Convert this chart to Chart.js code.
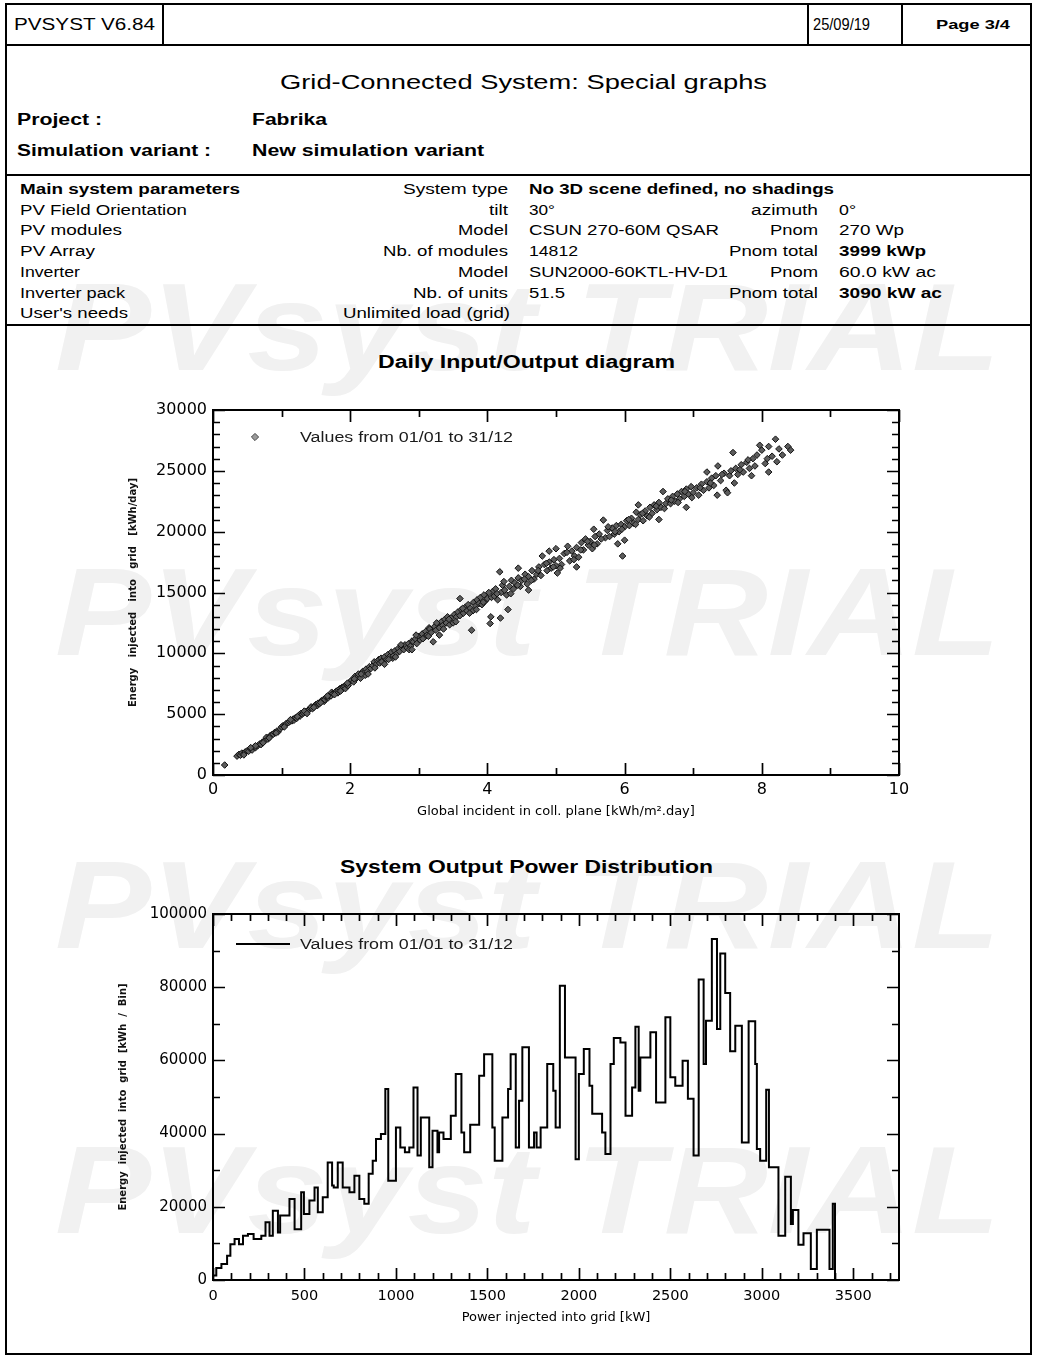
<!DOCTYPE html>
<html>
<head>
<meta charset="utf-8">
<title>PVsyst - Special graphs</title>
<script src="https://cdn.jsdelivr.net/npm/chart.js@4.4.1/dist/chart.umd.min.js"></script>
<style>
html,body{margin:0;padding:0;background:#fff}
body{position:relative;width:1038px;height:1358px;overflow:hidden;font-family:"Liberation Sans",Arial,sans-serif;color:#000}
.t{position:absolute;white-space:pre;line-height:1.2;transform-origin:0 50%}
.b{font-weight:bold}
.wm{position:absolute;white-space:pre;line-height:1.2;font-weight:bold;font-style:italic;color:#f1f1f1;transform-origin:0 50%}
.hl{position:absolute;height:2px;background:#000}
.vl{position:absolute;width:2px;background:#000}
canvas{position:absolute}
</style>
</head>
<body>
<!-- watermarks -->
<div class="wm" data-x="55" data-cy="327" data-fs="125" data-w="945">PVsyst TRIAL</div>
<div class="wm" data-x="55" data-cy="612" data-fs="125" data-w="945">PVsyst TRIAL</div>
<div class="wm" data-x="55" data-cy="905" data-fs="125" data-w="945">PVsyst TRIAL</div>
<div class="wm" data-x="55" data-cy="1190" data-fs="125" data-w="945">PVsyst TRIAL</div>

<!-- page frame -->
<div style="position:absolute;left:5px;top:3px;width:1027px;height:1352px;border:2px solid #000;box-sizing:border-box"></div>
<div class="hl" style="left:5px;top:44px;width:1027px"></div>
<div class="vl" style="left:162px;top:3px;height:42px"></div>
<div class="vl" style="left:807px;top:3px;height:42px"></div>
<div class="vl" style="left:901px;top:3px;height:42px"></div>
<div class="hl" style="left:5px;top:174px;width:1027px"></div>
<div class="hl" style="left:5px;top:324px;width:1027px"></div>

<!-- header -->
<div class="t" data-x="14" data-cy="25" data-fs="16" data-w="141">PVSYST V6.84</div>
<div class="t" data-x="813" data-cy="25" data-fs="16" data-w="57">25/09/19</div>
<div class="t b" data-x="936" data-cy="25" data-fs="13" data-w="74">Page 3/4</div>

<div class="t" data-x="280" data-cy="82" data-fs="20" data-w="487">Grid-Connected System: Special graphs</div>
<div class="t b" data-x="17" data-cy="120" data-fs="16" data-w="85">Project :</div>
<div class="t b" data-x="252" data-cy="120" data-fs="16" data-w="75">Fabrika</div>
<div class="t b" data-x="17" data-cy="151" data-fs="16" data-w="194">Simulation variant :</div>
<div class="t b" data-x="252" data-cy="151" data-fs="16" data-w="232">New simulation variant</div>

<!-- main system parameters -->
<div class="t b" data-x="20" data-cy="189" data-fs="14" data-w="220">Main system parameters</div>
<div class="t" data-x="403" data-cy="189" data-fs="14" data-w="105">System type</div>
<div class="t b" data-x="529" data-cy="189" data-fs="14" data-w="305">No 3D scene defined, no shadings</div>

<div class="t" data-x="20" data-cy="210" data-fs="14" data-w="167">PV Field Orientation</div>
<div class="t" data-x="489" data-cy="210" data-fs="14" data-w="19">tilt</div>
<div class="t" data-x="529" data-cy="210" data-fs="14" data-w="26">30°</div>
<div class="t" data-x="751" data-cy="210" data-fs="14" data-w="67">azimuth</div>
<div class="t" data-x="839" data-cy="210" data-fs="14" data-w="17">0°</div>

<div class="t" data-x="20" data-cy="230" data-fs="14" data-w="102">PV modules</div>
<div class="t" data-x="458" data-cy="230" data-fs="14" data-w="50">Model</div>
<div class="t" data-x="529" data-cy="230" data-fs="14" data-w="190">CSUN 270-60M QSAR</div>
<div class="t" data-x="770" data-cy="230" data-fs="14" data-w="48">Pnom</div>
<div class="t" data-x="839" data-cy="230" data-fs="14" data-w="65">270 Wp</div>

<div class="t" data-x="20" data-cy="251" data-fs="14" data-w="75">PV Array</div>
<div class="t" data-x="383" data-cy="251" data-fs="14" data-w="125">Nb. of modules</div>
<div class="t" data-x="529" data-cy="251" data-fs="14" data-w="49">14812</div>
<div class="t" data-x="729" data-cy="251" data-fs="14" data-w="89">Pnom total</div>
<div class="t b" data-x="839" data-cy="251" data-fs="14" data-w="87">3999 kWp</div>

<div class="t" data-x="20" data-cy="272" data-fs="14" data-w="60">Inverter</div>
<div class="t" data-x="458" data-cy="272" data-fs="14" data-w="50">Model</div>
<div class="t" data-x="529" data-cy="272" data-fs="14" data-w="199">SUN2000-60KTL-HV-D1</div>
<div class="t" data-x="770" data-cy="272" data-fs="14" data-w="48">Pnom</div>
<div class="t" data-x="839" data-cy="272" data-fs="14" data-w="97">60.0 kW ac</div>

<div class="t" data-x="20" data-cy="293" data-fs="14" data-w="105">Inverter pack</div>
<div class="t" data-x="413" data-cy="293" data-fs="14" data-w="95">Nb. of units</div>
<div class="t" data-x="529" data-cy="293" data-fs="14" data-w="36">51.5</div>
<div class="t" data-x="729" data-cy="293" data-fs="14" data-w="89">Pnom total</div>
<div class="t b" data-x="839" data-cy="293" data-fs="14" data-w="103">3090 kW ac</div>

<div class="t" data-x="20" data-cy="313" data-fs="14" data-w="108">User's needs</div>
<div class="t" data-x="343" data-cy="313" data-fs="14" data-w="167">Unlimited load (grid)</div>

<!-- chart titles -->
<div class="t b" data-x="378" data-cy="363" data-fs="18" data-w="297">Daily Input/Output diagram</div>
<div class="t b" data-x="340" data-cy="868" data-fs="18" data-w="373">System Output Power Distribution</div>

<canvas id="c1" width="1000" height="443" style="left:20px;top:380px;width:1000px;height:443px"></canvas>
<canvas id="c2" width="1000" height="444" style="left:20px;top:884px;width:1000px;height:444px"></canvas>

<script>
// ---------- DATA ----------
const legendLabel = 'Values from 01/01 to 31/12';

// Daily Input/Output diagram: global incident irradiation [kWh/m².day]
const dailyIrradiation = [
  0.17,0.35,0.38,0.40,0.42,0.45,0.47,0.50,0.52,0.55,
  0.57,0.60,0.62,0.65,0.68,0.70,0.72,0.75,0.78,0.80,
  0.83,0.85,0.88,0.90,0.93,0.95,0.98,1.00,1.02,1.05,
  1.07,1.10,1.12,1.15,1.17,1.18,1.20,1.22,1.25,1.27,
  1.28,1.30,1.32,1.35,1.38,1.40,1.42,1.43,1.45,1.48,
  1.50,1.52,1.53,1.55,1.58,1.60,1.62,1.63,1.65,1.68,
  1.70,1.72,1.73,1.75,1.78,1.80,1.82,1.83,1.85,1.87,
  1.88,1.90,1.92,1.93,1.95,1.97,2.00,2.02,2.05,2.07,
  2.10,2.12,2.15,2.18,2.20,2.22,2.23,2.25,2.28,2.30,
  2.33,2.35,2.38,2.40,2.42,2.43,2.45,2.48,2.50,2.53,
  2.55,2.58,2.60,2.62,2.63,2.65,2.68,2.70,2.72,2.75,
  2.77,2.78,2.80,2.83,2.85,2.88,2.90,2.92,2.95,2.97,
  3.00,3.02,3.05,3.08,3.10,3.12,3.15,3.16,3.18,3.21,
  3.23,3.25,3.28,3.30,3.33,3.35,3.38,3.40,3.42,3.45,
  3.47,3.50,3.52,3.55,3.57,3.60,3.62,3.65,3.68,3.70,
  3.72,3.75,3.77,3.79,3.80,3.83,3.85,3.88,3.90,3.92,
  3.95,3.97,4.00,4.04,4.05,4.06,4.08,4.10,4.12,4.15,
  4.18,4.19,4.20,4.22,4.25,4.28,4.30,4.32,4.35,4.38,
  4.40,4.45,4.48,4.50,4.55,4.58,4.60,4.65,4.68,4.72,
  4.75,4.78,4.80,4.83,4.87,4.90,4.93,4.97,5.00,5.02,
  5.05,5.08,5.12,5.17,5.20,5.23,5.27,5.30,5.33,5.37,
  5.40,5.43,5.47,5.50,5.53,5.57,5.60,5.63,5.69,5.72,
  5.75,5.78,5.82,5.85,5.88,5.92,5.95,5.97,6.00,6.03,
  6.07,6.10,6.13,6.17,6.20,6.23,6.27,6.30,6.33,6.37,
  6.40,6.43,6.47,6.50,6.53,6.56,6.60,6.63,6.67,6.70,
  6.73,6.77,6.80,6.83,6.87,6.90,6.93,6.97,7.00,7.05,
  7.08,7.12,7.15,7.20,7.23,7.27,7.30,7.33,7.36,7.40,
  7.45,7.48,7.50,7.53,7.58,7.62,7.65,7.70,7.73,7.78,
  7.82,7.87,7.90,7.97,8.00,8.05,8.10,8.15,8.20,8.22,
  8.30,8.38,8.42,
  0.45,0.55,0.62,0.73,0.82,0.92,1.04,1.13,1.23,1.33,
  1.37,1.47,1.57,1.67,1.77,1.86,1.96,2.06,2.16,2.26,
  2.36,2.46,2.56,2.66,2.74,2.86,2.96,3.06,3.14,3.26,
  3.36,3.44,3.54,3.64,3.74,3.84,3.94,4.02,4.14,4.24,
  4.34,4.44,4.54,4.64,4.74,4.86,4.96,5.06,5.16,5.26,
  5.36,5.46,5.56,5.66,5.76,5.86,5.96,6.06,6.16,6.26,
  6.36,6.46,6.58,6.68,6.78,6.88,6.98,7.10,7.25,7.42,
  7.55,7.68,7.80,7.93,8.08,8.25,
  2.50,2.90,3.30,3.60,4.45,4.60,4.90,5.00,5.30,5.55,
  5.90,6.00,6.20,6.50,6.90,7.20,7.35,7.60,7.85,8.10
];
// Energy injected into grid [kWh/day], same order
const dailyEnergy = [
  820,1550,1700,1620,1800,1750,1900,2000,1950,2150,
  2050,2300,2250,2400,2550,2500,2700,2800,3100,2950,
  3200,3300,3350,3500,3600,3550,3800,3950,4050,4100,
  4250,4300,4400,4450,4600,4500,4700,4650,4900,4850,
  5050,5000,5100,5200,5300,5350,5500,5600,5450,5700,
  5800,5700,5900,5850,6100,6150,6050,6200,6400,6350,
  6550,6500,6800,6700,6800,6900,6750,7000,7100,7000,
  7200,7250,7300,7100,7400,7350,7650,7800,7650,8100,
  8000,8300,7950,8500,8400,8200,8700,8500,8900,8750,
  9000,9300,9100,9400,9500,9200,9600,9450,9700,9500,
  9900,9750,10100,9600,9800,10200,10000,10400,10150,10500,
  10600,10300,10700,10450,10800,10600,11000,10950,11200,10800,
  11400,11100,11600,11300,11800,11500,12100,12000,11700,10950,
  12200,11900,12400,12100,12600,12300,12800,12500,13000,12350,
  12900,12500,13200,13000,13400,13100,13600,13300,13800,13500,
  14000,13700,11900,13500,14200,13900,14400,14100,14600,14000,
  14800,14300,14500,12450,13000,14600,15100,14700,15300,14400,
  16700,12900,15000,15600,15200,14800,13600,15500,16000,15300,
  15800,16200,15500,16000,16500,15700,16300,16800,16100,16500,
  17100,16400,18000,17300,16800,17500,17000,17700,17200,16600,
  17800,17300,18200,18800,17600,18400,18000,18700,17900,19100,
  18500,19400,18900,19200,18600,19600,19000,19800,20950,19500,
  20100,19600,20300,19800,20500,20000,20600,18000,20400,20900,
  20500,21100,20700,21600,21000,21400,20900,21700,21300,22000,
  21500,22200,21800,22400,22000,23300,22300,22700,22300,22900,
  22500,23100,22700,23300,22900,23500,23100,23700,23200,23600,
  23000,23900,23400,24100,23600,24400,23800,24600,25400,24200,
  24800,23400,23200,24600,26500,25200,24700,25500,24900,25700,
  25200,26000,25400,27100,26700,25600,24900,26200,27600,25750,
  26300,27000,26700,
  1650,2250,2400,2650,3050,3450,3950,4550,4800,5250,
  5050,5550,5950,6500,6600,6900,7550,7900,8300,8300,
  8800,9300,9500,9700,10700,10300,11500,11200,11400,12500,
  12000,12800,12600,13700,13300,13600,14200,15000,14900,15900,
  14900,15600,16100,16000,16800,17400,17100,17000,18300,17700,
  18500,19200,18900,19400,20400,20000,20200,21000,20600,21500,
  21200,22100,21900,22600,22400,23300,22800,23600,24000,24700,
  25000,25100,25900,26300,26000,26800,
  9100,10300,11500,14500,17000,15200,18400,18600,17100,20200,
  19000,19300,22200,21000,22000,24900,23000,24000,24600,27000
];

// System Output Power Distribution: bin left edges [kW] and energy per bin [kWh]
const powerBinEdges = [
  0,18,46,77,95,118,142,164,191,222,264,287,309,327,355,367,418,446,482,497,
  527,555,573,600,627,651,660,682,709,746,773,800,827,851,873,891,918,942,958,1000,
  1024,1049,1073,1096,1118,1136,1182,1200,1227,1236,1260,1300,1327,1358,1373,1406,1455,1482,1527,1540,
  1582,1613,1627,1655,1673,1691,1727,1755,1769,1791,1827,1860,1873,1896,1924,1982,2000,2027,2058,2073,
  2127,2145,2173,2191,2227,2255,2291,2309,2327,2336,2391,2422,2473,2500,2527,2567,2596,2627,2655,2682,
  2695,2727,2755,2773,2800,2827,2855,2891,2928,2964,2973,2991,3024,3039,3091,3128,3159,3170,3200,3228,
  3268,3301,3370,3388,3400
];
const powerBinEnergy = [
  1200,3300,4400,6600,9800,11200,9800,12100,12600,11200,12100,15750,12100,18900,13000,17600,22100,13900,24000,18000,
  21700,25300,18500,22600,32100,25800,25300,32100,25300,24000,28500,22100,20800,29000,32600,38500,39900,52200,27100,41700,
  36200,34900,36200,52600,34000,44400,30800,40800,34900,40300,38500,44900,56300,40300,34900,42400,55800,61700,41700,32600,
  44400,52200,61700,36200,49000,63600,36200,40300,36200,41700,59000,51700,41700,80400,60800,33000,56300,63100,53100,45400,
  40300,34400,59000,66100,64900,44900,52600,69200,51700,60800,67700,48500,71800,55400,53100,59900,49500,34000,82100,59000,
  70800,93200,68600,89200,78400,62500,69500,37600,70700,59000,35800,32600,52000,30800,12100,28200,15300,19100,9650,12750,
  3000,13700,3000,20800,0
];

// axis texts and tick labels
const scatterXTitle = 'Global incident in coll. plane [kWh/m².day]';
const scatterYTitle = 'Energy   injected   into   grid   [kWh/day]';
const histXTitle = 'Power injected into grid [kW]';
const histYTitle = 'Energy  injected  into  grid  [kWh  /  Bin]';
const histXTickLabels = [0, 500, 1000, 1500, 2000, 2500, 3000, 3500];

// ---------- HTML text fitting ----------
document.querySelectorAll('[data-w]').forEach(el => {
  const fs = +el.dataset.fs;
  el.style.fontSize = fs + 'px';
  el.style.left = el.dataset.x + 'px';
  el.style.top = (+el.dataset.cy - 0.6 * fs) + 'px';
  const w = el.getBoundingClientRect().width;
  el.style.transform = 'scaleX(' + (+el.dataset.w / w) + ')';
});

// ---------- plugin: frame, inward ticks, inner legend ----------
const pvFrame = {
  id: 'pvFrame',
  afterDraw(chart, args, o) {
    const {ctx, chartArea: a} = chart;
    const xs = chart.scales.x, ys = chart.scales.y;
    const isMul = (v, m) => Math.abs(v / m - Math.round(v / m)) < 1e-6;
    ctx.save();
    ctx.strokeStyle = '#000';
    ctx.lineWidth = 1.7;
    ctx.beginPath();
    for (let i = 0; ; i++) {
      const v = xs.min + i * o.xMinor;
      if (v > xs.max + 1e-9) break;
      const len = isMul(v, o.xMajor) ? o.majorLen : o.minorLen;
      const p = Math.round(xs.getPixelForValue(v)) + 0.5;
      ctx.moveTo(p, a.bottom); ctx.lineTo(p, a.bottom - len);
      ctx.moveTo(p, a.top); ctx.lineTo(p, a.top + len);
    }
    for (let i = 0; ; i++) {
      const v = ys.min + i * o.yMinor;
      if (v > ys.max + 1e-9) break;
      const len = isMul(v, o.yMajor) ? o.majorLen : o.minorLen;
      const p = Math.round(ys.getPixelForValue(v)) + 0.5;
      ctx.moveTo(a.left, p); ctx.lineTo(a.left + len, p);
      ctx.moveTo(a.right, p); ctx.lineTo(a.right - len, p);
    }
    ctx.stroke();
    ctx.lineWidth = 2;
    ctx.strokeRect(a.left, a.top, a.right - a.left, a.bottom - a.top);

    // legend inside plot area
    const ds = chart.data.datasets[0];
    const ly = a.top + o.legendDy;
    if (o.mark === 'line') {
      ctx.beginPath();
      ctx.lineWidth = 2;
      ctx.moveTo(a.left + o.markX0, ly);
      ctx.lineTo(a.left + o.markX1, ly);
      ctx.stroke();
    } else {
      const cx = a.left + o.markX0, r = 3.6;
      ctx.beginPath();
      ctx.moveTo(cx, ly - r); ctx.lineTo(cx + r, ly); ctx.lineTo(cx, ly + r); ctx.lineTo(cx - r, ly); ctx.closePath();
      ctx.fillStyle = '#9a9a9a'; ctx.fill();
      ctx.lineWidth = 1; ctx.strokeStyle = '#444'; ctx.stroke();
    }
    ctx.font = '14px "Liberation Sans", Arial, sans-serif';
    ctx.fillStyle = '#1a1a1a';
    ctx.textBaseline = 'middle';
    ctx.textAlign = 'left';
    const tw = ctx.measureText(ds.label).width;
    ctx.translate(a.left + o.textX, ly + 1);
    ctx.scale(o.textW / tw, 1);
    ctx.fillText(ds.label, 0, 0);
    ctx.restore();
  }
};

const tickFont = size => ({family: 'DejaVu Sans', size: size});
const titleFont = {family: 'DejaVu Sans', size: 13};
const yTitleFont = {family: 'DejaVu Sans', size: 10, weight: 'bold'};

// ---------- Chart 1: Daily Input/Output diagram ----------
new Chart(document.getElementById('c1'), {
  type: 'scatter',
  data: {
    datasets: [{
      label: legendLabel,
      data: dailyIrradiation.map((g, i) => ({x: g, y: dailyEnergy[i]})),
      pointStyle: 'rectRot',
      pointRadius: 3.3,
      pointBackgroundColor: '#5c5c5c',
      pointBorderColor: '#111',
      pointBorderWidth: 1
    }]
  },
  options: {
    responsive: false, animation: false, events: [],
    layout: {padding: {left: 107, top: 30, right: 121, bottom: 0}},
    plugins: {
      legend: {display: false}, tooltip: {enabled: false},
      pvFrame: {xMinor: 1, xMajor: 2, yMinor: 1000, yMajor: 5000, majorLen: 12, minorLen: 7,
                mark: 'point', markX0: 42, legendDy: 27, textX: 87, textW: 213}
    },
    scales: {
      x: {
        type: 'linear', min: 0, max: 10,
        grid: {display: false, drawTicks: false}, border: {display: false},
        ticks: {stepSize: 2, padding: 5, color: '#000', font: tickFont(16), autoSkip: false, maxRotation: 0,
                callback: v => String(v)},
        title: {display: true, text: scatterXTitle, color: '#000', font: titleFont, padding: {top: 0, bottom: 4}},
        afterFit: s => { s.height = 48; }
      },
      y: {
        type: 'linear', min: 0, max: 30000,
        grid: {display: false, drawTicks: false}, border: {display: false},
        ticks: {stepSize: 5000, padding: 6, color: '#000', font: tickFont(16), autoSkip: false,
                callback: v => String(v)},
        title: {display: true, text: scatterYTitle, color: '#111', font: yTitleFont, padding: {top: 0, bottom: 0}},
        afterFit: s => { s.width = 86; }
      }
    }
  },
  plugins: [pvFrame]
});

// ---------- Chart 2: System Output Power Distribution ----------
new Chart(document.getElementById('c2'), {
  type: 'line',
  data: {
    datasets: [{
      label: legendLabel,
      data: powerBinEdges.map((e, i) => ({x: e, y: powerBinEnergy[i]})),
      stepped: 'before',
      borderColor: '#000',
      borderWidth: 2,
      pointRadius: 0,
      fill: false
    }]
  },
  options: {
    responsive: false, animation: false, events: [],
    layout: {padding: {left: 97, top: 30, right: 121, bottom: 0}},
    plugins: {
      legend: {display: false}, tooltip: {enabled: false},
      pvFrame: {xMinor: 100, xMajor: 500, yMinor: 10000, yMajor: 20000, majorLen: 12, minorLen: 7,
                mark: 'line', markX0: 23, markX1: 77, legendDy: 30, textX: 87, textW: 213}
    },
    scales: {
      x: {
        type: 'linear', min: 0, max: 3750,
        grid: {display: false, drawTicks: false}, border: {display: false},
        afterBuildTicks: s => { s.ticks = histXTickLabels.map(v => ({value: v})); },
        ticks: {padding: 8, color: '#000', font: tickFont(14.5), autoSkip: false, maxRotation: 0, minRotation: 0,
                callback: v => String(v)},
        title: {display: true, text: histXTitle, color: '#000', font: titleFont, padding: {top: 0, bottom: 3}},
        afterFit: s => { s.height = 48; }
      },
      y: {
        type: 'linear', min: 0, max: 100000,
        grid: {display: false, drawTicks: false}, border: {display: false},
        ticks: {stepSize: 20000, padding: 6, color: '#000', font: tickFont(15), autoSkip: false,
                callback: v => String(v)},
        title: {display: true, text: histYTitle, color: '#111', font: yTitleFont, padding: {top: 0, bottom: 0}},
        afterFit: s => { s.width = 96; }
      }
    }
  },
  plugins: [pvFrame]
});
</script>
</body>
</html>
